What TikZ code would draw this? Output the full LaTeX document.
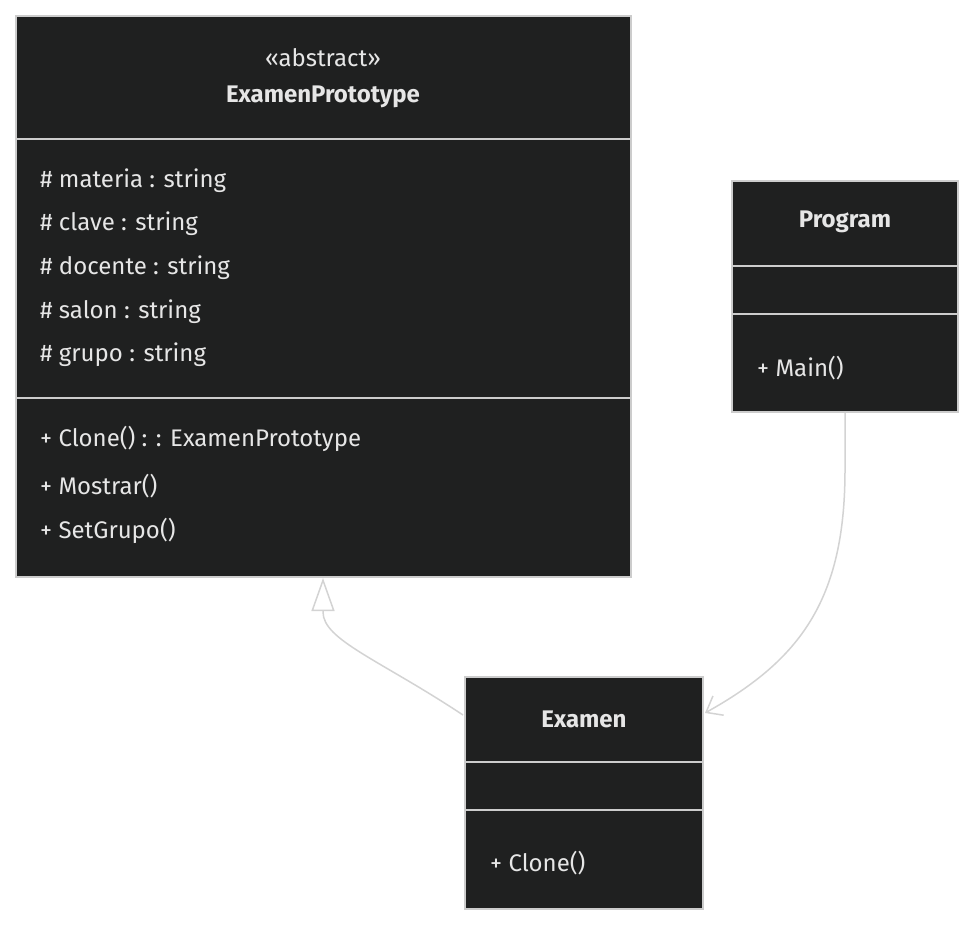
\documentclass[tikz,border=0pt]{standalone}
\usepackage{fontspec}
\setmainfont{Fira Sans}
\usetikzlibrary{arrows.meta}
\definecolor{boxfill}{HTML}{1F2020}
\definecolor{boxline}{HTML}{CCCCCC}
\definecolor{txt}{HTML}{E6E6E6}
\definecolor{edge}{HTML}{D3D3D3}
\begin{document}
\begin{tikzpicture}[x=1pt,y=-1pt,
  box/.style={draw=boxline,fill=boxfill,line width=1.2pt},
  div/.style={draw=boxline,line width=1.2pt},
  t/.style={text=txt,font=\fontsize{24}{28}\selectfont,inner sep=0pt},
  tl/.style={t,anchor=west},
  tb/.style={t,font=\fontsize{24}{28}\selectfont\bfseries},
  edgeline/.style={draw=edge,line width=1.5pt}]
\useasboundingbox (0,0) rectangle (975,926);
% ExamenPrototype
\path[box] (16,16) rectangle (631,577);
\draw[div] (16,139) -- (631,139);
\draw[div] (16,398) -- (631,398);
\node[t] (ab) at (323,58) {«abstract»};
\node[tb] (ep) at (323,97) {ExamenPrototype};
\node[tl] (a1) at (40,181) {\# materia : string};
\node[tl] (a2) at (40,224) {\# clave : string};
\node[tl] (a3) at (40,268) {\# docente : string};
\node[tl] (a4) at (40,312) {\# salon : string};
\node[tl] (a5) at (40,355) {\# grupo : string};
\node[tl] (m1) at (40,439) {+ Clone() : : ExamenPrototype};
\node[tl] (m2) at (40,486) {+ Mostrar()};
\node[tl] (m3) at (40,531) {+ SetGrupo()};
\coordinate (epb) at (323,578);
% Program
\path[box] (732,181) rectangle (958,412);
\draw[div] (732,266) -- (958,266);
\draw[div] (732,314) -- (958,314);
\node[tb] (pg) at (845,222) {Program};
\node[tl] (pm) at (757,368) {+ Main()};
\coordinate (pgb) at (845,413);
% Examen
\path[box] (465,677) rectangle (703,909);
\draw[div] (465,762) -- (703,762);
\draw[div] (465,810) -- (703,810);
\node[tb] (ex) at (584,719) {Examen};
\node[tl] (em) at (490,863) {+ Clone()};
\coordinate (exl) at (463,715);
\coordinate (exr) at (705,713);
% edges
\draw[edgeline,-{Triangle[open,length=33pt,width=23pt]}] (exl) .. controls (380,660) and (323,640) .. (323,612) -- (epb);
\draw[edgeline,-{Straight Barb[length=14pt,width=22pt]}] (pgb) -- (845,470) .. controls (845,600) and (800,660) .. (exr);
\end{tikzpicture}
\end{document}
